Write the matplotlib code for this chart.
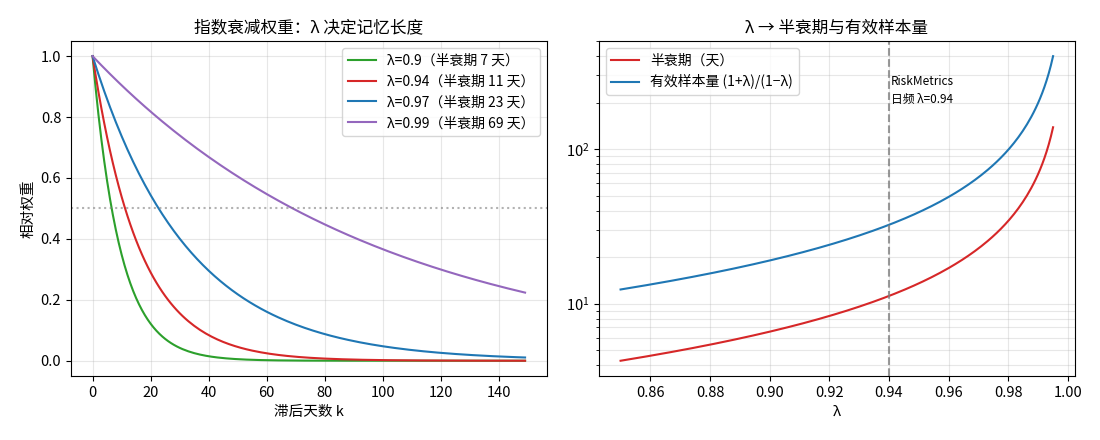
import numpy as np
import matplotlib
matplotlib.use('Agg')
import matplotlib.pyplot as plt

plt.rcParams['font.family'] = ['Noto Sans CJK SC', 'DejaVu Sans']
plt.rcParams['axes.unicode_minus'] = False
plt.rcParams['font.size'] = 10.5

# data: decay factors and their colours (the curves are the chart's own definition)
lambdas = [0.9, 0.94, 0.97, 0.99]
colors = ['tab:green', 'tab:red', 'tab:blue', 'tab:purple']
lags = np.arange(150)
lam_grid = np.linspace(0.85, 0.995, 200)
riskmetrics_lam = 0.94

fig = plt.figure(figsize=(11, 4.4), dpi=100)
ax1 = fig.add_axes([0.0645, 0.1455, 0.4325, 0.7615])
ax2 = fig.add_axes([0.5445, 0.1455, 0.4325, 0.7615])

# left: relative weight lambda^k
for lam, c in zip(lambdas, colors):
    hl = np.log(0.5) / np.log(lam)
    ax1.plot(lags, lam ** lags, color=c, lw=1.5,
             label=f'λ={lam}（半衰期 {hl:.0f} 天）')
ax1.axhline(0.5, color='gray', ls=':', alpha=0.6)
ax1.set_title('指数衰减权重：λ 决定记忆长度', fontsize=12)
ax1.set_xlabel('滞后天数 k', fontsize=10.5)
ax1.set_ylabel('相对权重', fontsize=10.5)
ax1.grid(alpha=0.3)
ax1.legend(fontsize=10)

# right: half-life and effective sample size
half_life = np.log(0.5) / np.log(lam_grid)
eff_n = (1 + lam_grid) / (1 - lam_grid)
ax2.plot(lam_grid, half_life, color='tab:red', label='半衰期（天）')
ax2.plot(lam_grid, eff_n, color='tab:blue', label='有效样本量 (1+λ)/(1−λ)')
ax2.set_yscale('log')
ax2.axvline(riskmetrics_lam, color='gray', ls='--', alpha=0.8)
ax2.text(riskmetrics_lam + 0.0005, 300, 'RiskMetrics\n日频 λ=0.94',
         fontsize=8.5, va='top', ha='left', linespacing=1.5)
ax2.set_title('λ → 半衰期与有效样本量', fontsize=12)
ax2.set_xlabel('λ', fontsize=10.5)
ax2.grid(alpha=0.3, which='both')
ax2.legend(fontsize=10, loc='upper left')

plt.savefig('out.png')
